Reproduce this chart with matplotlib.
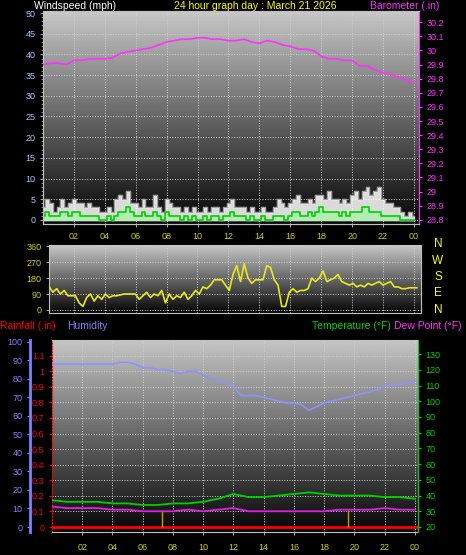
import numpy as np
import matplotlib
matplotlib.use('Agg')
import matplotlib.pyplot as plt

plt.rcParams['font.family'] = ['Liberation Sans', 'DejaVu Sans']
plt.rcParams['font.size'] = 6.5

# ---- data ----
baro = [29.90, 29.91, 29.91, 29.90, 29.93, 29.93, 29.94, 29.94, 29.94, 29.95,
        29.98, 29.99, 30.00, 30.01, 30.02, 30.04, 30.06, 30.07, 30.08, 30.08,
        30.09, 30.09, 30.08, 30.08, 30.07, 30.07, 30.08, 30.06, 30.05, 30.07,
        30.06, 30.04, 30.03, 30.01, 30.01, 30.00, 29.96, 29.94, 29.94, 29.93,
        29.93, 29.89, 29.89, 29.86, 29.84, 29.83, 29.81, 29.79, 29.77]
gust = [3, 5, 4, 2, 3, 5, 3, 4, 5, 4, 4, 3, 4, 3, 3, 2, 2, 3, 2, 5,
        6, 5, 7, 4, 4, 3, 5, 3, 3, 6, 3, 2, 5, 4, 3, 3, 2, 3, 2, 3,
        2, 2, 3, 2, 3, 3, 2, 3, 4, 5, 3, 3, 3, 2, 3, 2, 2, 3, 2, 2,
        3, 5, 4, 3, 4, 5, 6, 4, 4, 5, 4, 6, 6, 5, 7, 5, 5, 4, 5, 4,
        6, 7, 5, 7, 8, 6, 7, 8, 5, 4, 4, 3, 3, 2, 1, 2, 1]
avg = [1, 2, 1, 1, 1, 2, 2, 1, 2, 2, 1, 1, 1, 1, 1, 0, 0, 1, 0, 1,
       2, 2, 3, 2, 1, 1, 2, 1, 1, 2, 1, 0, 2, 1, 1, 1, 0, 1, 0, 1,
       0, 0, 1, 0, 1, 1, 0, 1, 1, 2, 1, 1, 1, 0, 1, 0, 0, 1, 0, 0,
       1, 1, 1, 0, 1, 2, 2, 1, 1, 2, 1, 2, 3, 2, 2, 2, 2, 1, 2, 1,
       2, 2, 2, 3, 3, 2, 2, 2, 1, 1, 1, 1, 1, 0, 0, 0, 0]
wdir = [130, 100, 120, 90, 110, 80, 80, 80, 40, 20, 70, 90, 50, 80,
        60, 90, 70, 80, 80, 85, 90, 90, 90, 90, 60, 80,
        100, 70, 90, 80, 110, 40, 90, 60, 80, 70, 100, 60, 80, 110, 90, 130,
        120, 140, 170, 170, 170, 140, 110, 200, 250, 160, 260, 180,
        150, 170, 170, 170, 250, 240, 170, 140, 20, 20, 100, 120,
        100, 110, 110, 120, 180, 160, 180, 220, 160, 170, 180, 200,
        160, 150, 140, 150, 130, 140, 130, 150, 140, 150, 160, 140,
        150, 160, 130, 130, 120, 120, 125, 125, 125]
hum = [88] * 9 + [89, 89, 88, 86, 86, 85, 85, 84, 83, 84, 84, 82, 80, 79, 78,
                  76, 71, 71, 71, 70, 69, 68, 67, 67, 66, 63, 65, 67, 68, 69,
                  70, 71, 72, 73, 74, 76, 77, 77, 78, 79]
temp = [37, 36, 36, 36, 35, 35, 34, 34, 35, 35, 36, 38, 41, 39, 39, 40, 41,
        42, 41, 40, 40, 40, 39, 39, 38]
dew = [33, 32, 32, 32, 31, 31, 30, 30, 30, 31, 30, 31, 32, 30, 30, 30, 30,
       30, 30, 31, 31, 31, 32, 31, 31]
rain_marks = [7.3, 19.6]

hticks = list(range(2, 25, 2))
hlabels = ['%02d' % (h % 24) for h in hticks]

W, H = 466, 555
fig = plt.figure(figsize=(W / 100, H / 100), dpi=100, facecolor='black')

def box(l, t, r, b):
    return [l / W, 1 - b / H, (r - l) / W, (b - t) / H]

def style(ax):
    ax.set_facecolor('black')
    grad = np.linspace(0.78, 0.02, 256).reshape(-1, 1)
    ax.imshow(grad, cmap='gray', vmin=0, vmax=1, aspect='auto',
              extent=[0, 1, 0, 1], transform=ax.transAxes, zorder=0)
    for s in ax.spines.values():
        s.set_color('#c0c0c0')
    ax.grid(True, color='#d0d0d0', ls=':', lw=0.7, zorder=1)
    ax.set_xticks(hticks)
    ax.set_xticklabels(hlabels, color='#d0d000')
    ax.tick_params(axis='x', colors='#a0a0a0', labelcolor='#d0d000', length=2)

# ---- top: wind & barometer ----
ax1 = fig.add_axes(box(43, 11, 419, 224))
style(ax1)
tw = np.linspace(0, 24, len(gust))
ax1.fill_between(tw, 0, gust, step='mid', color='white', alpha=0.85, zorder=2)
ax1.step(tw, gust, where='mid', color='#909090', lw=0.6, zorder=2)
ax1.fill_between(tw, 0, avg, step='mid', color='#b0f0b0', alpha=0.9, zorder=3)
ax1.step(tw, avg, where='mid', color='#00d000', lw=1.2, zorder=4)
ax1.set_xlim(0, 24.33)
ax1.set_ylim(-1, 50.5)
ax1.set_yticks(range(0, 51, 5))
ax1.set_yticks(range(0, 51, 1), minor=True)
ax1.tick_params(axis='y', colors='#a0a0a0', labelcolor='#a8c8ff', length=2)
ax1.tick_params(axis='y', which='minor', colors='#a0a0a0', length=1.5)
ax1b = ax1.twinx()
ax1b.plot(np.linspace(0, 24, len(baro)), baro, color='#ff30ff', lw=1.2, zorder=5)
ax1b.set_ylim(28.77, 30.28)
ax1b.set_yticks(np.round(np.arange(28.8, 30.21, 0.1), 1))
ax1b.set_yticklabels(['%g' % v for v in np.round(np.arange(28.8, 30.21, 0.1), 1)])
ax1b.tick_params(axis='y', colors='#ff30ff', labelcolor='#ff30ff', length=2)
for s in ax1b.spines.values():
    s.set_color('#c0c0c0')
ax1b.spines['right'].set_color('#ff30ff')

fig.text(34 / W, 1 - 6 / H, 'Windspeed (mph)', color='white', fontsize=7.5, va='center')
fig.text(255 / W, 1 - 6 / H, '24 hour graph day : March 21 2026', color='yellow',
         fontsize=7.5, va='center', ha='center')
fig.text(439 / W, 1 - 6 / H, 'Barometer (.in)', color='#ff30ff', fontsize=7.5,
         va='center', ha='right')

# ---- middle: wind direction ----
ax2 = fig.add_axes(box(49, 245, 421, 313))
style(ax2)
ax2.set_xticklabels([])
ax2.tick_params(axis='x', length=0)
ax2.plot(np.linspace(0.4, 24.2, len(wdir)), wdir, color='#e8e820', lw=1.2, zorder=3)
ax2.set_xlim(0.39, 24.47)
ax2.set_ylim(-17, 366)
ax2.set_yticks([0, 90, 180, 270, 360])
ax2.tick_params(axis='y', colors='#a0a0a0', labelcolor='#d0d000', length=2)
for i, lab in enumerate(['N', 'W', 'S', 'E', 'N']):
    fig.text(438 / W, 1 - (244 + i * 16.5) / H, lab, color='yellow', fontsize=8.5,
             ha='center', va='center')

# ---- bottom: rain, humidity, temp, dew ----
fig.text(0, 1 - 326 / H, 'Rainfall (.in)', color='red', fontsize=7.5, va='center')
fig.text(67 / W, 1 - 326 / H, 'Humidity', color='#8080ff', fontsize=7.5, va='center')
fig.text(312 / W, 1 - 326 / H, 'Temperature (\u00b0F)', color='#00d000', fontsize=7.5, va='center')
fig.text(462 / W, 1 - 326 / H, 'Dew Point (\u00b0F)', color='#ff30ff', fontsize=7.5,
         va='center', ha='right')

ax3 = fig.add_axes(box(52, 340, 418, 532))
style(ax3)
ax3.set_xlim(0, 24.2)
ax3.set_ylim(-0.032, 1.2)
ax3.set_yticks(np.round(np.arange(0, 1.11, 0.1), 1))
ax3.set_yticklabels(['%g' % v for v in np.round(np.arange(0, 1.11, 0.1), 1)])
ax3.tick_params(axis='y', colors='red', labelcolor='red', length=2)
ax3.spines['left'].set_color('red')
ax3.spines['left'].set_linestyle(':')
ax3.axhline(0, color='red', lw=2, zorder=4)
ax3.vlines(rain_marks, 0, 0.1, color='#c0a000', lw=1, zorder=4)
ax3.tick_params(axis='x', pad=6)

ax3h = ax3.twinx()
ax3h.yaxis.tick_left()
ax3h.spines['left'].set_position(('axes', -(52 - 30) / 366))
ax3h.spines['left'].set_color('#8080ff')
ax3h.spines['left'].set_linewidth(2)
ax3h.spines['right'].set_visible(False)
ax3h.spines['top'].set_visible(False)
ax3h.spines['bottom'].set_visible(False)
ax3h.set_ylim(-2.7, 101)
ax3h.set_yticks(range(0, 101, 10))
ax3h.tick_params(axis='y', colors='#8080ff', labelcolor='#8080ff', length=2)
ax3h.plot(np.linspace(0, 24, len(hum)), hum, color='#9090ff', lw=1.2, zorder=3)

ax3t = ax3.twinx()
ax3t.set_ylim(16.8, 139)
ax3t.set_yticks(range(20, 131, 10))
ax3t.tick_params(axis='y', colors='#00d000', labelcolor='#00d000', length=2)
for s in ax3t.spines.values():
    s.set_visible(False)
ax3t.spines['right'].set_visible(True)
ax3t.spines['right'].set_color('#00d000')
th = np.linspace(0, 24, len(temp))
ax3t.plot(th, temp, color='#00d000', lw=1.3, zorder=3)
ax3t.plot(th, dew, color='#e020e0', lw=1.3, zorder=3)

fig.savefig('out.png', dpi=100, facecolor='black')
